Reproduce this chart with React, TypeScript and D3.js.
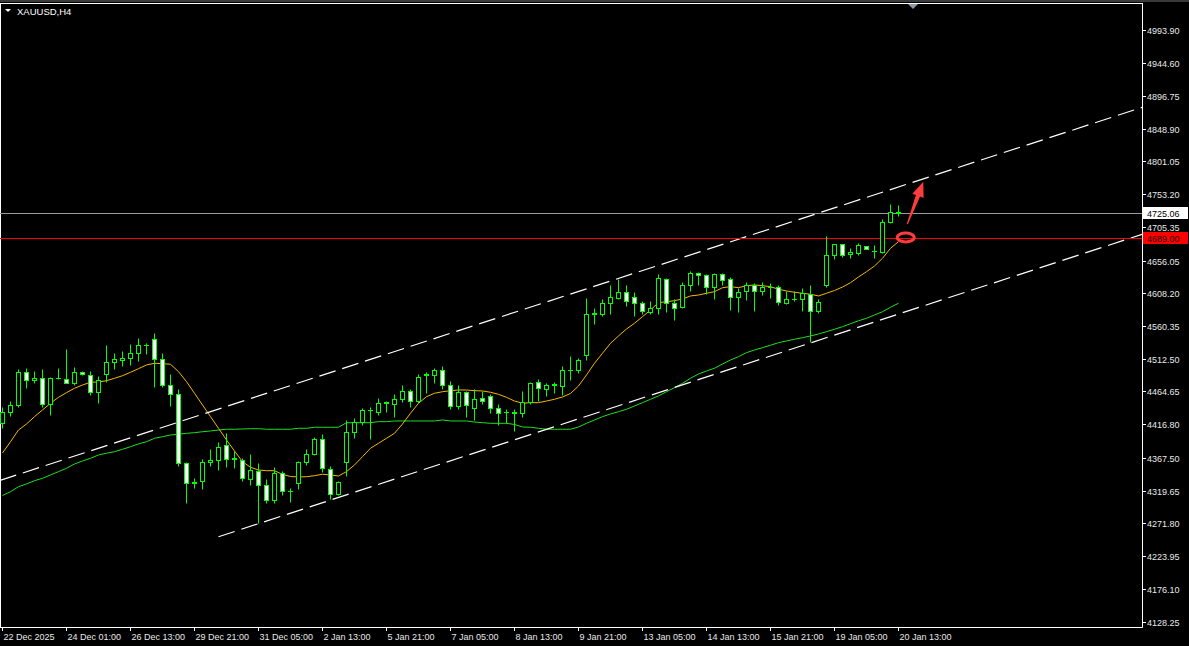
import React from "react";
import * as d3 from "d3";

// ---- Data (XAUUSD H4) ----
const opens = [
  4418.8, 4434.4, 4444.2, 4493.4, 4481.2, 4484.6, 4446.6, 4484.1, 4483.1, 4477.3,
  4493.4, 4489.0, 4464.1, 4490.5, 4508.0, 4510.4, 4513.4, 4521.2, 4531.9, 4541.6,
  4512.4, 4473.9, 4461.2, 4360.3, 4331.1, 4333.5, 4361.3, 4364.7, 4385.7, 4366.2,
  4364.7, 4336.9, 4349.0, 4327.6, 4305.6, 4345.6, 4318.8, 4331.0, 4361.7, 4373.9,
  4395.3, 4351.5, 4314.9, 4361.2, 4405.6, 4420.2, 4436.8, 4434.8, 4448.0, 4446.5,
  4453.8, 4466.0, 4450.4, 4489.4, 4489.4, 4495.3, 4473.8, 4443.1, 4464.1, 4440.7,
  4455.3, 4457.7, 4440.7, 4434.3, 4433.4, 4432.4, 4449.5, 4478.2, 4468.5, 4474.8,
  4472.4, 4495.3, 4495.8, 4517.7, 4578.6, 4578.2, 4594.2, 4601.5, 4610.3, 4603.0,
  4594.2, 4581.1, 4587.0, 4629.3, 4594.2, 4588.4, 4620.1, 4638.1, 4634.2, 4617.1,
  4635.7, 4629.3, 4603.0, 4611.3, 4621.0, 4611.3, 4617.1, 4617.6, 4594.2, 4599.1,
  4600.1, 4607.4, 4582.1, 4620.1, 4663.5, 4679.6, 4665.9, 4667.4, 4677.1, 4669.8,
  4668.4, 4712.7, 4726.9,
];
const highs = [
  4442.2, 4450.5, 4497.8, 4498.3, 4494.3, 4497.8, 4486.0, 4499.2, 4526.0, 4500.7,
  4494.3, 4494.3, 4487.0, 4531.9, 4520.2, 4523.6, 4533.3, 4543.1, 4535.8, 4549.4,
  4521.2, 4489.5, 4467.5, 4361.0, 4338.4, 4366.2, 4379.8, 4391.0, 4404.2, 4377.4,
  4367.6, 4372.5, 4360.2, 4337.3, 4353.9, 4348.1, 4323.7, 4363.2, 4380.7, 4398.3,
  4401.7, 4356.3, 4333.4, 4422.2, 4425.1, 4440.7, 4442.1, 4455.3, 4450.4, 4461.6,
  4474.8, 4468.5, 4490.4, 4493.3, 4499.2, 4501.6, 4479.7, 4474.8, 4465.0, 4468.5,
  4465.1, 4460.2, 4446.5, 4439.2, 4439.2, 4466.0, 4478.2, 4483.1, 4477.2, 4478.2,
  4501.6, 4517.2, 4513.8, 4601.5, 4586.0, 4600.1, 4621.0, 4629.8, 4619.6, 4609.8,
  4596.7, 4597.6, 4635.7, 4630.8, 4599.1, 4624.5, 4640.5, 4639.6, 4636.6, 4638.1,
  4638.1, 4632.3, 4616.2, 4624.5, 4623.5, 4624.5, 4622.5, 4621.0, 4611.3, 4611.3,
  4616.2, 4621.0, 4599.1, 4691.8, 4680.5, 4680.5, 4674.7, 4681.0, 4677.6, 4678.1,
  4717.1, 4738.1, 4737.1,
];
const lows = [
  4411.5, 4428.6, 4442.2, 4469.0, 4477.3, 4442.2, 4430.0, 4482.2, 4476.3, 4473.4,
  4488.0, 4459.3, 4448.0, 4478.3, 4496.8, 4501.7, 4502.6, 4509.0, 4518.7, 4470.9,
  4470.9, 4443.2, 4355.4, 4301.8, 4322.8, 4322.3, 4355.4, 4349.6, 4354.0, 4353.0,
  4333.5, 4327.7, 4272.5, 4301.7, 4301.7, 4313.9, 4302.7, 4322.7, 4357.8, 4371.0,
  4346.6, 4307.6, 4313.9, 4340.8, 4396.8, 4416.3, 4395.4, 4429.5, 4434.3, 4427.5,
  4449.0, 4441.7, 4448.0, 4462.6, 4477.2, 4467.5, 4439.7, 4439.7, 4427.0, 4422.2,
  4445.6, 4433.4, 4415.3, 4417.8, 4406.6, 4427.0, 4446.5, 4451.4, 4457.7, 4462.6,
  4459.2, 4481.1, 4491.9, 4510.4, 4562.6, 4574.7, 4577.2, 4599.1, 4589.4, 4574.7,
  4577.2, 4577.2, 4577.2, 4581.1, 4568.9, 4586.9, 4611.3, 4621.0, 4607.4, 4600.1,
  4620.1, 4583.5, 4581.1, 4598.1, 4582.1, 4605.4, 4601.5, 4590.8, 4591.8, 4596.7,
  4582.1, 4536.7, 4579.6, 4617.7, 4657.6, 4661.1, 4660.1, 4664.0, 4672.7, 4660.1,
  4667.4, 4710.3, 4721.0,
];
const closes = [
  4434.4, 4444.2, 4493.4, 4481.2, 4484.6, 4446.6, 4484.6, 4484.6, 4477.3, 4493.4,
  4489.5, 4464.1, 4480.7, 4508.0, 4512.4, 4513.8, 4521.2, 4531.9, 4532.4, 4512.4,
  4473.9, 4461.2, 4360.3, 4331.1, 4331.6, 4361.8, 4364.7, 4383.7, 4366.2, 4366.7,
  4338.4, 4349.1, 4327.6, 4305.6, 4345.6, 4318.8, 4319.3, 4361.7, 4373.9, 4395.3,
  4352.9, 4314.9, 4332.5, 4405.6, 4420.2, 4436.8, 4437.3, 4448.0, 4449.0, 4453.8,
  4466.0, 4450.4, 4486.0, 4489.9, 4495.3, 4473.8, 4443.1, 4464.1, 4444.6, 4452.9,
  4451.4, 4440.7, 4433.4, 4434.8, 4433.9, 4449.5, 4477.2, 4469.9, 4474.8, 4475.3,
  4495.3, 4495.8, 4510.4, 4578.6, 4579.1, 4594.2, 4603.0, 4610.3, 4596.7, 4594.2,
  4582.1, 4587.0, 4630.8, 4594.2, 4586.9, 4621.0, 4638.1, 4634.2, 4617.6, 4635.7,
  4626.9, 4603.0, 4610.3, 4620.1, 4611.3, 4617.6, 4617.6, 4595.2, 4599.1, 4599.6,
  4607.9, 4582.1, 4595.7, 4663.5, 4679.6, 4664.0, 4668.4, 4678.1, 4673.2, 4670.3,
  4712.7, 4727.3, 4725.06,
];

// Fast moving average (yellow), one value per bar
const fastMA = [
  4375.4, 4391.9, 4409.0, 4417.8, 4428.5, 4438.3, 4448.1, 4456.8, 4463.6, 4470.0,
  4474.8, 4478.8, 4479.2, 4481.1, 4484.6, 4488.4, 4493.4, 4498.7, 4504.1, 4506.6,
  4506.0, 4505.1, 4494.3, 4479.7, 4462.7, 4445.6, 4428.5, 4411.5, 4394.4, 4378.3,
  4362.7, 4354.5, 4350.5, 4349.5, 4349.5, 4344.0, 4341.0, 4340.3, 4340.7, 4342.2,
  4344.3, 4343.2, 4341.8, 4348.1, 4357.9, 4370.0, 4382.3, 4389.6, 4396.9, 4404.2,
  4417.8, 4433.5, 4448.1, 4457.7, 4462.7, 4465.0, 4466.5, 4467.5, 4467.5, 4466.5,
  4466.1, 4464.2, 4461.2, 4456.8, 4451.4, 4448.1, 4449.0, 4449.0, 4451.4, 4453.9,
  4457.3, 4462.4, 4473.4, 4489.5, 4506.6, 4521.2, 4535.8, 4546.5, 4556.7, 4565.1,
  4574.7, 4584.5, 4595.2, 4596.6, 4598.1, 4600.6, 4605.0, 4606.4, 4608.9, 4611.3,
  4617.1, 4618.6, 4617.1, 4620.0, 4621.1, 4620.0, 4618.6, 4614.8, 4612.3, 4610.4,
  4608.9, 4607.5, 4605.0, 4608.9, 4613.0, 4618.1, 4624.4, 4632.8, 4640.5, 4648.8,
  4660.1, 4674.7, 4684.4,
];
// Slow moving average (green), one value per bar
const slowMA = [
  4313.3, 4318.8, 4326.1, 4330.1, 4334.9, 4338.4, 4343.2, 4348.1, 4353.0, 4359.3,
  4363.7, 4367.6, 4372.5, 4375.0, 4377.3, 4380.8, 4384.6, 4388.6, 4391.9, 4396.9,
  4399.2, 4401.7, 4402.7, 4404.2, 4405.1, 4406.5, 4407.6, 4409.0, 4410.1, 4410.1,
  4410.5, 4410.9, 4410.9, 4410.1, 4410.1, 4410.1, 4410.1, 4411.5, 4411.5, 4413.0,
  4413.0, 4413.0, 4413.0, 4419.7, 4419.7, 4419.7, 4419.7, 4421.2, 4421.2, 4422.2,
  4422.2, 4422.2, 4422.2, 4422.2, 4422.2, 4423.7, 4422.2, 4422.2, 4422.2, 4420.7,
  4419.7, 4418.8, 4418.8, 4418.8, 4417.1, 4413.4, 4413.0, 4411.5, 4410.1, 4410.1,
  4410.1, 4410.1, 4413.4, 4418.8, 4423.7, 4428.5, 4432.4, 4435.8, 4439.3, 4444.1,
  4449.0, 4453.9, 4458.8, 4465.0, 4470.9, 4477.3, 4484.6, 4490.9, 4495.3, 4499.3,
  4505.5, 4511.4, 4516.2, 4522.1, 4526.0, 4529.4, 4532.9, 4536.7, 4539.2, 4541.7,
  4544.0, 4546.5, 4549.4, 4552.8, 4556.3, 4560.1, 4564.5, 4568.7, 4572.4, 4577.2,
  4582.0, 4588.5, 4594.3,
];

const xTickLabels = [
  "22 Dec 2025", "24 Dec 01:00", "26 Dec 13:00", "29 Dec 21:00", "31 Dec 05:00",
  "2 Jan 13:00", "5 Jan 21:00", "7 Jan 05:00", "8 Jan 13:00", "9 Jan 21:00",
  "13 Jan 05:00", "14 Jan 13:00", "15 Jan 21:00", "19 Jan 05:00", "20 Jan 13:00",
];
const xTickBars = [0, 8, 16, 24, 32, 40, 48, 56, 64, 72, 80, 88, 96, 104, 112];

const yTickLabels = [
  "4993.90", "4944.60", "4896.75", "4848.90", "4801.05", "4753.20", "4705.35",
  "4656.05", "4608.20", "4560.35", "4512.50", "4464.65", "4416.80", "4367.50",
  "4319.65", "4271.80", "4223.95", "4176.10", "4128.25",
];

const bidPrice = 4725.06;
const levelPrice = 4689.0;

// Channel anchors: [bar, price]
const upperChannel = [[0, 4336.5], [112, 4764.4]];
const lowerChannel = [[27, 4252.9], [112, 4578.5]];

// Annotation (circle + arrow) anchors: [bar, price]
const circleAnchor = [112.9, 4690.5];
const arrowTail = [113.1, 4710.0];
const arrowTip = [115.1, 4772.0];

const symbolTitle = "XAUUSD,H4";

export default function App() {
  const W = 1189;
  const H = 646;
  const plotRight = 1142;
  const plotBottom = 627;

  const x = d3.scaleLinear().domain([0, 112]).range([2.5, 898.5]);
  const y = d3.scaleLinear().domain([4128.25, 4993.9]).range([622, 30]);

  const snap = (v: number) => Math.round(v - 0.5) + 0.5;

  const maLine = d3
    .line<number>()
    .x((_, i) => x(i))
    .y((d) => y(d));

  const font = "'Liberation Sans', Arial, sans-serif";

  const channelPath = (pts: number[][], extendLeft: boolean) => {
    const [a, b] = pts;
    const x1 = x(a[0]);
    const y1 = y(a[1]);
    const x2 = x(b[0]);
    const y2 = y(b[1]);
    const slope = (y2 - y1) / (x2 - x1);
    const sx = extendLeft ? 0 : x1;
    const sy = y1 + slope * (sx - x1);
    const ex = plotRight;
    const ey = y1 + slope * (ex - x1);
    return { sx, sy, ex, ey };
  };
  const up = channelPath(upperChannel, true);
  const lo = channelPath(lowerChannel, false);

  // arrow geometry
  const tx = x(arrowTail[0]);
  const ty = y(arrowTail[1]);
  const hx = x(arrowTip[0]);
  const hy = y(arrowTip[1]);
  const ang = Math.atan2(hy - ty, hx - tx);
  const headLen = 15;
  const headHalf = 6;
  const bx = hx - headLen * Math.cos(ang);
  const by = hy - headLen * Math.sin(ang);
  const px = -Math.sin(ang);
  const py = Math.cos(ang);
  const shaftW = 2.2;
  const arrowPts = [
    [tx + px * 0.6, ty + py * 0.6],
    [bx + px * shaftW, by + py * shaftW],
    [bx + px * headHalf, by + py * headHalf],
    [hx, hy],
    [bx - px * headHalf, by - py * headHalf],
    [bx - px * shaftW, by - py * shaftW],
    [tx - px * 0.6, ty - py * 0.6],
  ]
    .map((p) => p.join(","))
    .join(" ");

  return (
    <svg
      width={W}
      height={H}
      style={{ position: "fixed", left: 0, top: 0, display: "block", background: "#000" }}
    >
      <rect x={0} y={0} width={W} height={H} fill="#000" />
      {/* window frame top */}
      <rect x={0} y={0} width={W} height={2} fill="#3a3a3a" />
      <line x1={0} y1={3.5} x2={plotRight + 0.5} y2={3.5} stroke="#fff" />
      <line x1={0.5} y1={3} x2={0.5} y2={plotBottom + 0.5} stroke="#fff" />
      {/* chart shift marker */}
      <polygon points="908,4 918,4 913,9" fill="#8a9aaa" />

      {/* moving averages */}
      <path d={maLine(slowMA) || ""} fill="none" stroke="#1ee01e" strokeWidth={1} />
      <path d={maLine(fastMA) || ""} fill="none" stroke="#f5b800" strokeWidth={1} />

      {/* channel lines */}
      <line x1={up.sx} y1={up.sy} x2={up.ex} y2={up.ey} stroke="#fff" strokeWidth={1.2} strokeDasharray="17,7" />
      <line x1={lo.sx} y1={lo.sy} x2={lo.ex} y2={lo.ey} stroke="#fff" strokeWidth={1.2} strokeDasharray="17,7" />

      {/* horizontal lines */}
      <line x1={0} y1={snap(y(bidPrice))} x2={plotRight} y2={snap(y(bidPrice))} stroke="#9a9a9a" />
      <line x1={0} y1={snap(y(levelPrice))} x2={plotRight} y2={snap(y(levelPrice))} stroke="#ff0000" />

      {/* candles */}
      {opens.map((o, i) => {
        const c = closes[i];
        const cx = snap(x(i));
        const top = snap(y(Math.max(o, c)));
        const bot = snap(y(Math.min(o, c)));
        const bull = c >= o;
        return (
          <g key={i}>
            <line x1={cx} x2={cx} y1={snap(y(highs[i]))} y2={snap(y(lows[i]))} stroke="#00ff00" />
            {bot - top < 1 ? (
              <line x1={cx - 2.5} x2={cx + 2.5} y1={top} y2={top} stroke="#00ff00" />
            ) : (
              <rect
                x={cx - 2}
                y={top}
                width={4}
                height={bot - top}
                fill={bull ? "#000" : "#fff"}
                stroke="#00ff00"
              />
            )}
          </g>
        );
      })}

      {/* annotations */}
      <ellipse
        cx={x(circleAnchor[0])}
        cy={y(circleAnchor[1])}
        rx={8.5}
        ry={4.5}
        fill="none"
        stroke="#ff3c3c"
        strokeWidth={3}
      />
      <polygon points={arrowPts} fill="#ff3c3c" />

      {/* axes */}
      <line x1={plotRight + 0.5} y1={3} x2={plotRight + 0.5} y2={plotBottom + 0.5} stroke="#fff" />
      <line x1={0} y1={plotBottom + 0.5} x2={plotRight + 0.5} y2={plotBottom + 0.5} stroke="#fff" />

      {yTickLabels.map((t) => {
        const yy = snap(y(+t));
        return (
          <g key={t}>
            <line x1={plotRight + 1} x2={plotRight + 4} y1={yy} y2={yy} stroke="#fff" />
            <text
              x={plotRight + 5}
              y={yy + 3.5}
              fill="#e8e8e8"
              fontFamily={font}
              fontSize={9}
            >
              {t}
            </text>
          </g>
        );
      })}

      {/* bid label */}
      <rect x={plotRight + 1} y={snap(y(bidPrice)) - 6.5} width={45} height={12} fill="#fff" />
      <text x={plotRight + 5} y={snap(y(bidPrice)) + 3.5} fill="#000" fontFamily={font} fontSize={9}>
        {bidPrice.toFixed(2)}
      </text>
      {/* level label */}
      <rect x={plotRight + 1} y={snap(y(levelPrice)) - 6.5} width={45} height={12} fill="#ff0000" />
      <text x={plotRight + 5} y={snap(y(levelPrice)) + 3.5} fill="#200000" fontFamily={font} fontSize={9}>
        {levelPrice.toFixed(2)}
      </text>

      {xTickBars.map((b, k) => {
        const xx = snap(x(b));
        return (
          <g key={b}>
            <line x1={xx} x2={xx} y1={plotBottom} y2={plotBottom + 4} stroke="#fff" />
            <text x={xx + 1} y={640} fill="#e8e8e8" fontFamily={font} fontSize={9}>
              {xTickLabels[k]}
            </text>
          </g>
        );
      })}

      {/* title */}
      <polygon points="5,9 11,9 8,12" fill="#fff" />
      <text x={17} y={15} fill="#fff" fontFamily={font} fontSize={9.5}>
        {symbolTitle}
      </text>
    </svg>
  );
}
